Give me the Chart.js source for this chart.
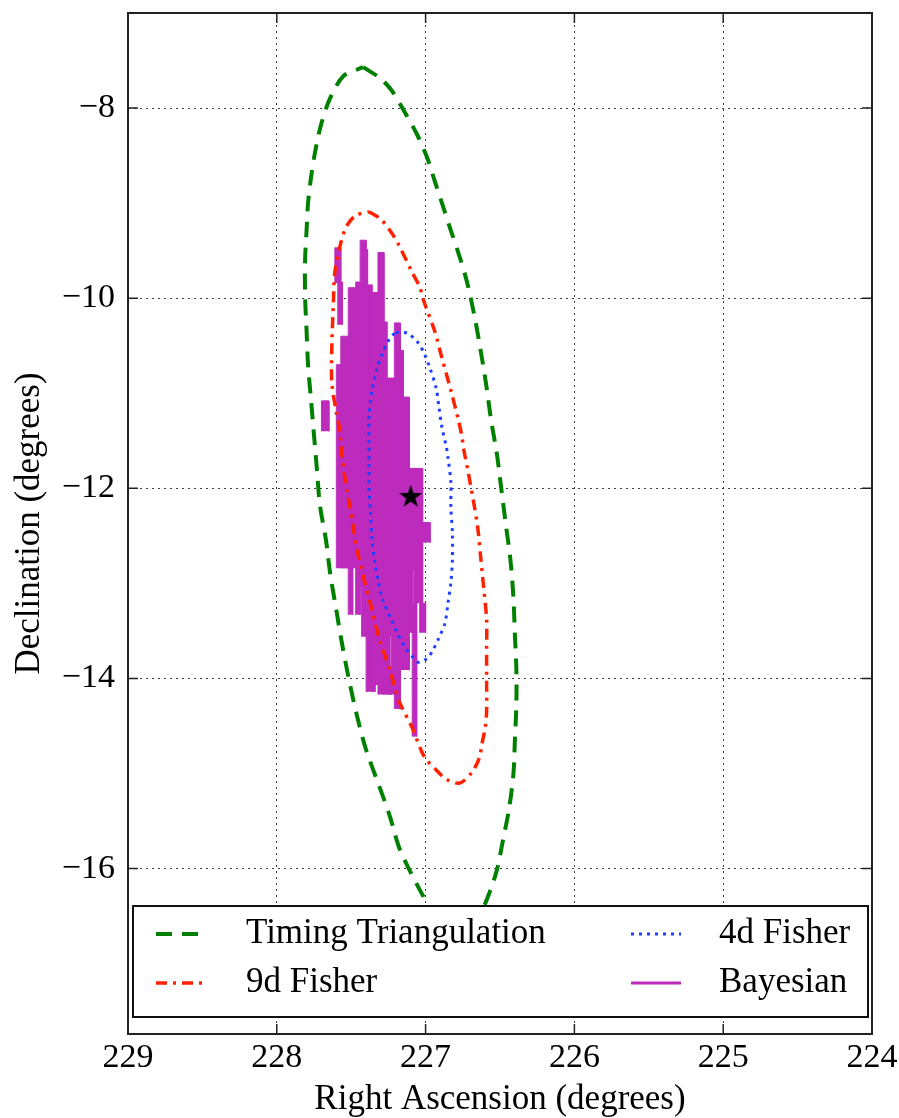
<!DOCTYPE html>
<html>
<head>
<meta charset="utf-8">
<script src="https://cdn.jsdelivr.net/npm/chart.js@4.4.1/dist/chart.umd.min.js"></script>
<style>
  html, body { margin: 0; padding: 0; background: #fff; }
  #wrap { width: 899px; height: 1118px; }
</style>
</head>
<body>
<div id="wrap"><canvas id="skyChart" width="899" height="1118"></canvas></div>
<script>
// axis ticks (RA runs backwards, east to the left)
const raTicks = [229, 228, 227, 226, 225, 224];
const decTicks = [-16, -14, -12, -10, -8];
const decMin = -17.74;
const decMax = -7;

// timing triangulation ellipse
const timingRa = [227.42, 227.31, 227.23, 227.16, 227.06, 226.99, 226.94, 226.89, 226.83, 226.77, 226.72, 226.67,
  226.63, 226.59, 226.56, 226.52, 226.49, 226.46, 226.43, 226.41, 226.40, 226.39, 226.39, 226.40, 226.41, 226.44,
  226.48, 226.52, 226.57, 226.62, 226.70, 226.79, 226.87, 226.95, 227.03, 227.11, 227.18, 227.24, 227.31, 227.40,
  227.46, 227.51, 227.56, 227.60, 227.64, 227.67, 227.71, 227.73, 227.75, 227.77, 227.79, 227.80, 227.81, 227.81,
  227.80, 227.79, 227.77, 227.74, 227.70, 227.64, 227.55, 227.42];
const timingDec = [-7.57, -7.68, -7.81, -7.99, -8.27, -8.52, -8.76, -9.00, -9.29, -9.57, -9.84, -10.20,
  -10.55, -10.94, -11.28, -11.65, -12.02, -12.39, -12.75, -13.14, -13.54, -13.91, -14.28, -14.65, -15.01, -15.38,
  -15.70, -16.01, -16.25, -16.43, -16.57, -16.65, -16.61, -16.47, -16.25, -16.01, -15.77, -15.45, -15.14, -14.75,
  -14.40, -14.05, -13.65, -13.28, -12.91, -12.54, -12.18, -11.81, -11.44, -11.07, -10.70, -10.34, -9.97, -9.60,
  -9.29, -9.00, -8.73, -8.44, -8.16, -7.89, -7.66, -7.57];

// 9d fisher ellipse
const fisher9Ra = [227.38, 227.30, 227.23, 227.18, 227.09, 227.04, 227.01, 226.94, 226.89, 226.83, 226.78, 226.76,
  226.74, 226.72, 226.68, 226.65, 226.63, 226.61, 226.59, 226.59, 226.59, 226.59, 226.60, 226.62, 226.64,
  226.69, 226.77, 226.86, 226.93, 227.01, 227.09, 227.18, 227.24, 227.31, 227.36, 227.41, 227.46, 227.51, 227.53,
  227.56, 227.58, 227.60, 227.63, 227.63, 227.62, 227.61, 227.57, 227.53, 227.47, 227.38];
const fisher9Dec = [-9.09, -9.17, -9.31, -9.44, -9.73, -9.88, -10.04, -10.34, -10.63, -10.97, -11.28, -11.42,
  -11.62, -11.78, -12.12, -12.41, -12.72, -13.04, -13.38, -13.70, -14.02, -14.35, -14.52, -14.68, -14.84,
  -14.99, -15.10, -15.06, -14.96, -14.82, -14.52, -14.23, -13.91, -13.59, -13.28, -12.98, -12.65, -12.18, -12.02,
  -11.68, -11.36, -11.20, -10.89, -10.49, -10.07, -9.73, -9.42, -9.24, -9.13, -9.09];

// 4d fisher ellipse
const fisher4Ra = [227.20, 227.12, 227.05, 227.01, 226.97, 226.93, 226.91, 226.89, 226.86, 226.85, 226.83, 226.83,
  226.82, 226.82, 226.83, 226.85, 226.87, 226.91, 226.95, 226.99, 227.05, 227.09, 227.14, 227.19, 227.24, 227.29,
  227.32, 227.34, 227.36, 227.37, 227.38, 227.38, 227.38, 227.38, 227.36, 227.33, 227.29, 227.24, 227.20];
const fisher4Dec = [-10.36, -10.37, -10.47, -10.58, -10.74, -10.94, -11.15, -11.36, -11.57, -11.67, -11.94, -12.20,
  -12.47, -12.75, -12.99, -13.21, -13.42, -13.57, -13.70, -13.79, -13.83, -13.77, -13.67, -13.52, -13.35, -13.17,
  -12.96, -12.79, -12.54, -12.26, -11.99, -11.78, -11.52, -11.25, -10.97, -10.76, -10.58, -10.42, -10.36];

// bayesian posterior region, one entry per histogram column block
const bayesRaLeft =  [227.70, 227.61, 227.59, 227.60, 227.57, 227.52, 227.49, 227.47, 227.44, 227.43, 227.40, 227.39,
  227.36, 227.34, 227.32, 227.28, 227.26, 227.24, 227.24, 227.23, 227.21, 227.17, 227.15, 227.11, 227.09, 227.08,
  227.09, 227.06, 227.03, 227.04];
const bayesRaRight = [227.65, 227.57, 227.56, 227.52, 227.52, 227.49, 227.47, 227.44, 227.43, 227.40, 227.39, 227.36,
  227.34, 227.32, 227.28, 227.26, 227.24, 227.23, 227.23, 227.21, 227.17, 227.15, 227.11, 227.09, 227.06, 227.06,
  227.08, 227.02, 226.97, 227.00];
const bayesDecTop = [-11.08, -9.47, -9.83, -10.70, -10.40, -9.89, -9.89, -9.83, -9.39, -9.39, -9.49, -9.86,
  -9.94, -9.94, -9.52, -10.25, -10.84, -10.84, -13.88, -10.84, -10.26, -10.55, -11.04, -11.79, -11.79, -12.86,
  -13.21, -11.79, -12.36, -13.21];
const bayesDecBottom = [-11.40, -9.84, -10.28, -12.84, -12.84, -13.33, -12.84, -13.33, -13.04, -13.56, -14.14, -14.14,
  -14.14, -14.07, -14.17, -14.17, -14.17, -13.56, -14.17, -14.17, -14.32, -13.91, -13.91, -13.52, -12.86, -14.61,
  -14.61, -13.21, -12.57, -13.52];

// true source position
const sourceRa = 227.10;
const sourceDec = -12.09;

const green = '#008000';
const red = '#ff2200';
const blue = '#1f3fff';
const purple = '#bd2bbd';
const serif = "'Liberation Serif', 'DejaVu Serif', serif";

function pairs(xs, ys) {
  return xs.map((x, i) => ({ x, y: ys[i] }));
}

function makeStar(r) {
  const c = document.createElement('canvas');
  c.width = c.height = 2 * r + 2;
  const g = c.getContext('2d');
  g.fillStyle = '#000';
  g.beginPath();
  for (let i = 0; i < 10; i++) {
    const rr = i % 2 ? r * 0.4 : r;
    const a = -Math.PI / 2 + i * Math.PI / 5;
    g.lineTo(r + 1 + rr * Math.cos(a), r + 1 + rr * Math.sin(a));
  }
  g.closePath();
  g.fill();
  return c;
}

const ellipse = (label, xs, ys, color, width, dash, order) => ({
  label, data: pairs(xs, ys), showLine: true, fill: false,
  borderColor: color, borderWidth: width, borderDash: dash, borderCapStyle: 'butt',
  pointRadius: 0, tension: 0.3, order
});

// each block: up the left edge, across the top, down the right edge, filled down to its bottom
const bayesSets = bayesRaLeft.map((l, i) => ({
  label: 'Bayesian',
  data: [
    { x: l, y: bayesDecBottom[i] }, { x: l, y: bayesDecTop[i] },
    { x: bayesRaRight[i], y: bayesDecTop[i] }, { x: bayesRaRight[i], y: bayesDecBottom[i] }
  ],
  showLine: true, borderColor: purple, borderWidth: 1, pointRadius: 0,
  backgroundColor: purple, fill: { value: bayesDecBottom[i] }, order: 5
}));

const datasets = [
  { label: 'source', data: [{ x: sourceRa, y: sourceDec }], pointStyle: makeStar(12), pointRadius: 12, order: 0 },
  ellipse('4d Fisher', fisher4Ra, fisher4Dec, blue, 3, [3, 5], 1),
  ellipse('9d Fisher', fisher9Ra, fisher9Dec, red, 3.5, [11, 6, 3, 6], 2),
  ellipse('Timing Triangulation', timingRa, timingDec, green, 4, [16, 10], 3),
  ...bayesSets
];

// legend boxed inside the plot, two columns
const legendItems = [
  { label: 'Timing Triangulation', color: green, width: 4, dash: [16, 10], col: 0, row: 0 },
  { label: '9d Fisher', color: red, width: 3.5, dash: [11, 6, 3, 6], col: 0, row: 1 },
  { label: '4d Fisher', color: blue, width: 3, dash: [3, 5], col: 1, row: 0 },
  { label: 'Bayesian', color: purple, width: 3, dash: [], col: 1, row: 1 }
];

const boxLegend = {
  id: 'boxLegend',
  afterDatasetsDraw(chart) {
    const { ctx, chartArea: a } = chart;
    const x0 = a.left + 5, y0 = a.bottom - 128, x1 = a.right - 4, y1 = a.bottom - 17;
    ctx.save();
    ctx.fillStyle = '#fff';
    ctx.fillRect(x0, y0, x1 - x0, y1 - y0);
    ctx.lineWidth = 2;
    ctx.strokeStyle = '#111';
    ctx.strokeRect(x0, y0, x1 - x0, y1 - y0);
    const sampleX = [a.left + 28, a.left + 503];
    const textX = [a.left + 118, a.left + 591];
    const rowY = [y0 + 28, y0 + 77];
    ctx.font = '35px ' + serif;
    ctx.textBaseline = 'middle';
    ctx.fillStyle = '#000';
    legendItems.forEach(it => {
      const y = rowY[it.row];
      ctx.beginPath();
      ctx.setLineDash(it.dash);
      ctx.lineWidth = it.width;
      ctx.strokeStyle = it.color;
      ctx.moveTo(sampleX[it.col], y);
      ctx.lineTo(sampleX[it.col] + 50, y);
      ctx.stroke();
      ctx.fillText(it.label, textX[it.col], y);
    });
    ctx.restore();
  }
};

// frame + inward tick marks on all four sides
const frameTicks = {
  id: 'frameTicks',
  afterDraw(chart) {
    const { ctx, chartArea: a, scales } = chart;
    ctx.save();
    ctx.strokeStyle = '#222';
    ctx.lineWidth = 1.5;
    ctx.beginPath();
    raTicks.forEach(v => {
      const px = scales.x.getPixelForValue(v);
      ctx.moveTo(px, a.bottom); ctx.lineTo(px, a.bottom - 10);
      ctx.moveTo(px, a.top); ctx.lineTo(px, a.top + 10);
    });
    decTicks.forEach(v => {
      const py = scales.y.getPixelForValue(v);
      ctx.moveTo(a.left, py); ctx.lineTo(a.left + 10, py);
      ctx.moveTo(a.right, py); ctx.lineTo(a.right - 10, py);
    });
    ctx.stroke();
    ctx.lineWidth = 2;
    ctx.strokeRect(a.left, a.top, a.right - a.left, a.bottom - a.top);
    ctx.restore();
  }
};

const gridStyle = { color: 'rgba(0,0,0,0.75)', lineWidth: 1, drawTicks: false };

new Chart(document.getElementById('skyChart'), {
  type: 'scatter',
  data: { datasets },
  options: {
    responsive: false,
    animation: false,
    layout: { padding: { top: 12, right: 27, left: 0, bottom: 0 } },
    plugins: { legend: { display: false }, tooltip: { enabled: false } },
    scales: {
      x: {
        type: 'linear', reverse: true, min: raTicks[raTicks.length - 1], max: raTicks[0],
        afterBuildTicks: s => { s.ticks = raTicks.map(v => ({ value: v })); },
        afterFit: s => { s.height = 84; s.paddingLeft = 0; s.paddingRight = 0; },
        ticks: { font: { family: serif, size: 34 }, color: '#000', padding: 4, maxRotation: 0, autoSkip: false,
          callback: v => String(v) },
        grid: gridStyle,
        border: { display: false, dash: [2, 4] },
        title: { display: true, text: 'Right Ascension (degrees)', color: '#000',
          font: { family: serif, size: 35, lineHeight: 1.05 }, padding: { top: 0, bottom: 0 } }
      },
      y: {
        type: 'linear', min: decMin, max: decMax,
        afterBuildTicks: s => { s.ticks = decTicks.map(v => ({ value: v })); },
        afterFit: s => { s.width = 128; s.paddingTop = 0; s.paddingBottom = 0; },
        ticks: { font: { family: serif, size: 34 }, color: '#000', padding: 13,
          callback: v => v < 0 ? '\u2212' + Math.abs(v) : String(v) },
        grid: gridStyle,
        border: { display: false, dash: [2, 4] },
        title: { display: true, text: 'Declination (degrees)', color: '#000',
          font: { family: serif, size: 35 }, padding: { top: 9, bottom: 0 } }
      }
    }
  },
  plugins: [boxLegend, frameTicks]
});
</script>
</body>
</html>
